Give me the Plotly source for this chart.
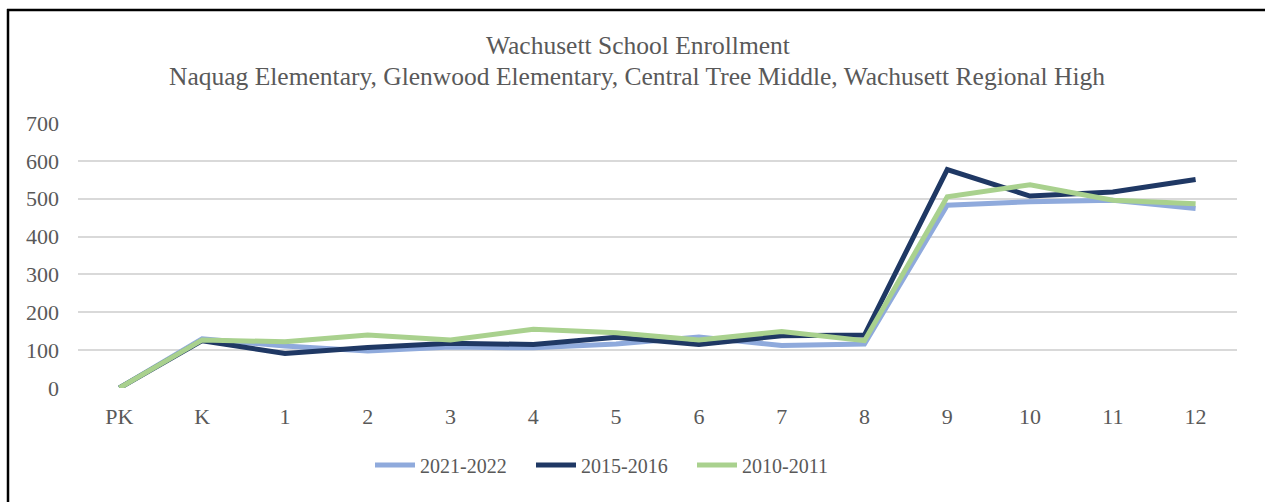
import plotly.graph_objects as go

grades = ["PK", "K", "1", "2", "3", "4", "5", "6", "7", "8", "9", "10", "11", "12"]
enroll_2021_2022 = [0, 130, 111, 98, 108, 106, 116, 135, 112, 116, 483, 492, 496, 474]
enroll_2015_2016 = [0, 125, 91, 107, 118, 115, 134, 115, 138, 140, 577, 507, 518, 551]
enroll_2010_2011 = [0, 127, 122, 140, 127, 155, 146, 127, 149, 125, 505, 537, 496, 487]
y_ticks = [0, 100, 200, 300, 400, 500, 600, 700]

series = [
    ("2021-2022", enroll_2021_2022, "#8FAADC"),
    ("2015-2016", enroll_2015_2016, "#1F3864"),
    ("2010-2011", enroll_2010_2011, "#A9D18E"),
]

FONT = "Liberation Serif"
TXT = "#595959"

fig = go.Figure()
for name, vals, color in series:
    fig.add_trace(go.Scatter(
        x=grades, y=vals, name=name, mode="lines",
        line=dict(color=color, width=5),
    ))

W, H = 1265, 502
L, R, T, B = 78, 28, 123, 114
pw, ph = W - L - R, H - T - B

def px(x):
    return (x - L) / pw

def py(y):
    return (H - B - y) / ph

fig.update_layout(
    width=W, height=H,
    margin=dict(l=L, r=R, t=T, b=B),
    paper_bgcolor="white", plot_bgcolor="white",
    font=dict(family=FONT, color=TXT, size=20),
    showlegend=True,
    legend=dict(
        orientation="h", x=px(370), xanchor="left",
        y=py(465), yanchor="middle",
        font=dict(family=FONT, size=20, color=TXT),
        itemwidth=40, traceorder="normal",
        entrywidth=106, entrywidthmode="pixels",
    ),
    xaxis=dict(
        type="category", range=[-0.5, 13.5],
        showgrid=False, showline=False, zeroline=False,
        ticks="", tickfont=dict(size=22, color=TXT),
        ticklabelstandoff=13,
    ),
    yaxis=dict(
        range=[0, 700], tickvals=y_ticks,
        showgrid=True, gridcolor="#D9D9D9", gridwidth=1.5,
        zeroline=False, showline=False, ticks="",
        tickfont=dict(size=22, color=TXT),
        ticklabelstandoff=18,
    ),
    annotations=[
        dict(text="Wachusett School Enrollment", xref="paper", yref="paper",
             x=px(638), y=py(45), xanchor="center", yanchor="middle",
             showarrow=False, font=dict(family=FONT, size=25.5, color=TXT)),
        dict(text="Naquag Elementary, Glenwood Elementary, Central Tree Middle, Wachusett Regional High",
             xref="paper", yref="paper",
             x=px(637), y=py(76), xanchor="center", yanchor="middle",
             showarrow=False, font=dict(family=FONT, size=25.5, color=TXT)),
    ],
    shapes=[
        dict(type="line", xref="paper", yref="paper",
             x0=px(7), x1=px(1275), y0=py(10), y1=py(10),
             line=dict(color="black", width=2.5)),
        dict(type="line", xref="paper", yref="paper",
             x0=px(8), x1=px(8), y0=py(9), y1=py(510),
             line=dict(color="black", width=2.5)),
    ],
)

fig.write_html("out.html")
